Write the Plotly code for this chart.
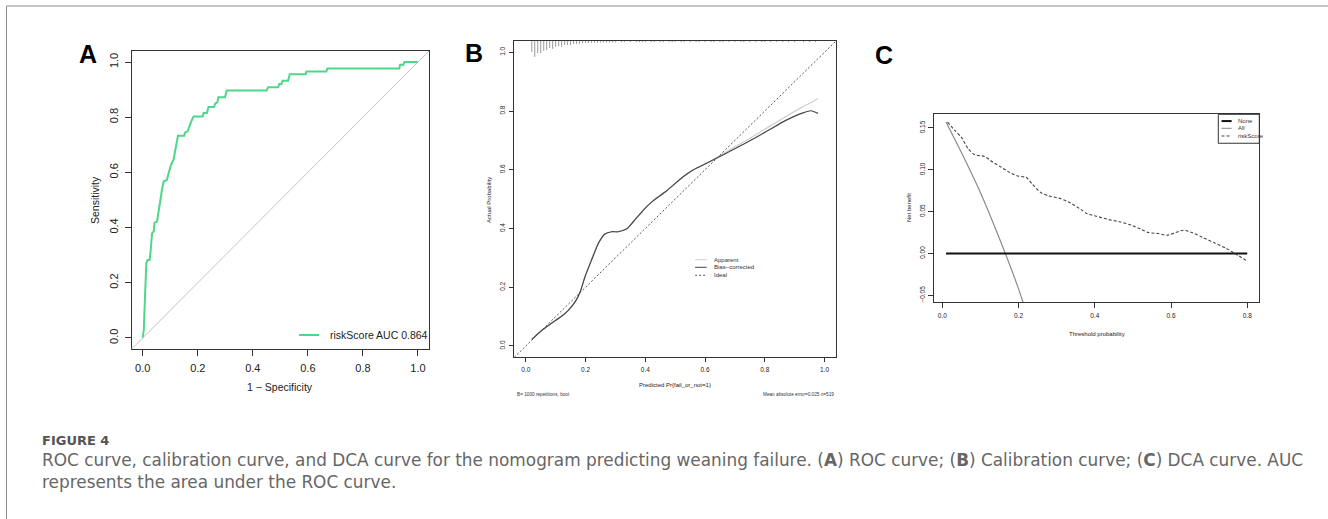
import plotly.graph_objects as go

W, H = 1328, 519

# ---------------- Panel A: ROC ----------------
roc_fpr = [0.000, 0.004, 0.006, 0.010, 0.013, 0.018, 0.025, 0.028, 0.034, 0.040,
           0.043, 0.052, 0.058, 0.064, 0.070, 0.076, 0.088, 0.094, 0.103, 0.112,
           0.118, 0.124, 0.128, 0.151, 0.154, 0.163, 0.166, 0.172, 0.179, 0.185,
           0.218, 0.221, 0.233, 0.239, 0.259, 0.263, 0.271, 0.275, 0.299, 0.305,
           0.450, 0.456, 0.492, 0.496, 0.504, 0.508, 0.528, 0.534, 0.592, 0.595,
           0.667, 0.671, 0.932, 0.935, 0.947, 0.951, 1.000]
roc_tpr = [0.000, 0.029, 0.089, 0.222, 0.271, 0.283, 0.283, 0.307, 0.380, 0.386,
           0.418, 0.422, 0.464, 0.501, 0.537, 0.567, 0.573, 0.597, 0.628, 0.646,
           0.676, 0.700, 0.733, 0.733, 0.745, 0.748, 0.759, 0.773, 0.791, 0.803,
           0.803, 0.815, 0.815, 0.837, 0.837, 0.849, 0.854, 0.872, 0.872, 0.897,
           0.897, 0.909, 0.909, 0.920, 0.920, 0.932, 0.932, 0.956, 0.956, 0.966,
           0.966, 0.977, 0.977, 0.990, 0.990, 1.000, 1.000]
roc_label = "riskScore AUC 0.864"
unit_ticks = [0.0, 0.2, 0.4, 0.6, 0.8, 1.0]
unit_tick_text = ["0.0", "0.2", "0.4", "0.6", "0.8", "1.0"]

# ---------------- Panel B: calibration ----------------
cal_x = [0.020, 0.053, 0.087, 0.120, 0.143, 0.165, 0.182, 0.198, 0.220, 0.243,
         0.265, 0.287, 0.310, 0.337, 0.360, 0.393, 0.426, 0.471, 0.527, 0.560,
         0.605, 0.671, 0.738, 0.805, 0.872, 0.928, 0.955, 0.978]
bias_corrected_y = [0.022, 0.053, 0.078, 0.101, 0.122, 0.150, 0.184, 0.235, 0.292, 0.349,
                    0.381, 0.389, 0.389, 0.398, 0.423, 0.462, 0.494, 0.528, 0.576, 0.599,
                    0.622, 0.656, 0.692, 0.730, 0.769, 0.794, 0.801, 0.792]
apparent_y = [0.022, 0.053, 0.078, 0.101, 0.122, 0.150, 0.184, 0.237, 0.296, 0.352,
              0.382, 0.389, 0.390, 0.399, 0.424, 0.463, 0.495, 0.529, 0.577, 0.600,
              0.622, 0.661, 0.700, 0.741, 0.782, 0.815, 0.829, 0.843]
rug_x = [0.02, 0.03, 0.04, 0.05, 0.06, 0.07, 0.08, 0.09, 0.10, 0.11,
         0.12, 0.13, 0.14, 0.15, 0.16, 0.17, 0.18, 0.19, 0.20, 0.21,
         0.22, 0.23, 0.24, 0.25, 0.26, 0.27, 0.28, 0.29, 0.30, 0.32,
         0.33, 0.35, 0.37, 0.38, 0.39, 0.40, 0.42, 0.43, 0.45, 0.46,
         0.48, 0.49, 0.50, 0.52, 0.53, 0.55, 0.57, 0.58, 0.60, 0.62,
         0.63, 0.65, 0.66, 0.68, 0.70, 0.72, 0.73, 0.75, 0.77, 0.79,
         0.80, 0.82, 0.84, 0.86, 0.88, 0.90, 0.93, 0.95, 0.97]
rug_h = [0.037, 0.054, 0.041, 0.041, 0.034, 0.031, 0.024, 0.027, 0.020, 0.017,
         0.020, 0.014, 0.014, 0.014, 0.010, 0.010, 0.010, 0.007, 0.007, 0.007,
         0.006, 0.006, 0.006, 0.005, 0.005, 0.005, 0.005, 0.005, 0.005, 0.004,
         0.004, 0.004, 0.004, 0.004, 0.004, 0.004, 0.004, 0.004, 0.004, 0.004,
         0.004, 0.004, 0.004, 0.004, 0.004, 0.004, 0.004, 0.004, 0.004, 0.004,
         0.004, 0.004, 0.004, 0.004, 0.004, 0.004, 0.004, 0.004, 0.004, 0.004,
         0.004, 0.004, 0.004, 0.004, 0.004, 0.004, 0.004, 0.004, 0.004]

# ---------------- Panel C: DCA ----------------
none_x = [0.01, 0.80]
none_y = [0.0, 0.0]
all_x = [0.01, 0.05, 0.10, 0.15, 0.20, 0.25]
all_y = [0.157, 0.121, 0.073, 0.018, -0.042, -0.112]
risk_x = [0.014, 0.033, 0.050, 0.068, 0.085, 0.111, 0.133, 0.155, 0.176, 0.198,
          0.220, 0.237, 0.259, 0.280, 0.311, 0.337, 0.363, 0.380, 0.406, 0.437,
          0.467, 0.497, 0.523, 0.541, 0.567, 0.589, 0.610, 0.632, 0.658, 0.684,
          0.714, 0.745, 0.775, 0.800]
risk_y = [0.157, 0.147, 0.139, 0.125, 0.118, 0.116, 0.109, 0.103, 0.097, 0.0925,
          0.091, 0.0825, 0.0726, 0.0687, 0.0655, 0.0603, 0.0528, 0.0476, 0.0444, 0.0405,
          0.0377, 0.0337, 0.0286, 0.025, 0.0238, 0.0218, 0.0246, 0.0278, 0.0246, 0.019,
          0.0127, 0.006, -0.002, -0.0091]
dca_x_ticks = [0.0, 0.2, 0.4, 0.6, 0.8]
dca_x_text = ["0.0", "0.2", "0.4", "0.6", "0.8"]
dca_y_ticks = [-0.05, 0.0, 0.05, 0.10, 0.15]
dca_y_text = ["\u22120.05", "0.00", "0.05", "0.10", "0.15"]

caption_head = "FIGURE 4"
caption_1 = ("ROC curve, calibration curve, and DCA curve for the nomogram predicting weaning failure. "
             "(<b>A</b>) ROC curve; (<b>B</b>) Calibration curve; (<b>C</b>) DCA curve. AUC")
caption_2 = "represents the area under the ROC curve."

FONT = "Liberation Sans, Arial, sans-serif"
CAP_FONT = "DejaVu Sans"

def px_x(p):
    return p / W

def px_y(p):
    return 1 - p / H

fig = go.Figure()

# --- A traces
fig.add_trace(go.Scatter(x=roc_fpr, y=roc_tpr, mode="lines", xaxis="x", yaxis="y",
                         line=dict(color="#4ED68A", width=2), showlegend=False, hoverinfo="skip"))

# --- B traces
rx, ry = [], []
for xv, hv in zip(rug_x, rug_h):
    rx += [xv, xv, None]
    ry += [1.0385, 1.0385 - hv, None]
fig.add_trace(go.Scatter(x=rx, y=ry, mode="lines", xaxis="x2", yaxis="y2",
                         line=dict(color="#9a9a9a", width=1), showlegend=False, hoverinfo="skip"))
fig.add_trace(go.Scatter(x=cal_x, y=apparent_y, mode="lines", xaxis="x2", yaxis="y2",
                         line=dict(color="#cfcfcf", width=1.2, shape="spline", smoothing=0.6),
                         showlegend=False, hoverinfo="skip"))
fig.add_trace(go.Scatter(x=cal_x, y=bias_corrected_y, mode="lines", xaxis="x2", yaxis="y2",
                         line=dict(color="#454545", width=1.2, shape="spline", smoothing=0.6),
                         showlegend=False, hoverinfo="skip"))

# --- C traces
fig.add_trace(go.Scatter(x=all_x, y=all_y, mode="lines", xaxis="x3", yaxis="y3",
                         line=dict(color="#8a8a8a", width=1.2, shape="spline", smoothing=0.4),
                         showlegend=False, hoverinfo="skip"))
fig.add_trace(go.Scatter(x=none_x, y=none_y, mode="lines", xaxis="x3", yaxis="y3",
                         line=dict(color="#111111", width=2), showlegend=False, hoverinfo="skip"))
fig.add_trace(go.Scatter(x=risk_x, y=risk_y, mode="lines", xaxis="x3", yaxis="y3",
                         line=dict(color="#444444", width=1.1, dash="3px,2px", shape="spline", smoothing=0.6),
                         showlegend=False, hoverinfo="skip"))

# domains (from pixel boxes)
dA_x = [px_x(131.7), px_x(429)]
dA_y = [px_y(349), px_y(51)]
dB_x = [px_x(514.3), px_x(836)]
dB_y = [px_y(357.3), px_y(41)]
dC_x = [px_x(934), px_x(1259.3)]
dC_y = [px_y(302.3), px_y(114.3)]

def axis(domain, rng, tickvals, ticktext, size, ticklen, anchor, is_y=False, standoff=2):
    d = dict(domain=domain, range=rng, tickvals=tickvals, ticktext=ticktext,
             ticks="outside", ticklen=ticklen, tickcolor="#333", tickwidth=1,
             showline=True, mirror=True, linecolor="#333", linewidth=1,
             showgrid=False, zeroline=False, anchor=anchor,
             tickfont=dict(family=FONT, size=size, color="#222"),
             ticklabelstandoff=standoff, fixedrange=True)
    if is_y:
        d["tickangle"] = -90
    return d

layout = dict(
    width=W, height=H, margin=dict(l=0, r=0, t=0, b=0),
    paper_bgcolor="white", plot_bgcolor="white",
    xaxis=axis(dA_x, [-0.04, 1.04], unit_ticks, unit_tick_text, 11, 6, "y", standoff=3),
    yaxis=axis(dA_y, [-0.04, 1.04], unit_ticks, unit_tick_text, 11, 6, "x", True, standoff=2),
    xaxis2=axis(dB_x, [-0.0385, 1.0385], unit_ticks, unit_tick_text, 6.5, 4, "y2", standoff=2),
    yaxis2=axis(dB_y, [-0.0385, 1.0385], unit_ticks, unit_tick_text, 6.5, 4, "x2", True, standoff=2),
    xaxis3=axis(dC_x, [-0.0216, 0.8316], dca_x_ticks, dca_x_text, 6.5, 5, "y3", standoff=2),
    yaxis3=axis(dC_y, [-0.0583, 0.1663], dca_y_ticks, dca_y_text, 6.5, 5, "x3", True, standoff=0),
)
fig.update_layout(**layout)

shapes = []
ann = []

# A: diagonal reference, legend key
shapes.append(dict(type="line", xref="x domain", yref="y domain", x0=0, y0=0, x1=1, y1=1,
                   line=dict(color="#c4c4c4", width=1)))
shapes.append(dict(type="line", xref="x domain", yref="y domain", x0=0.563, x1=0.630, y0=0.047, y1=0.047,
                   line=dict(color="#4ED68A", width=2)))
ann.append(dict(text=roc_label, xref="x domain", yref="y domain", x=0.660, y=0.047,
                xanchor="left", yanchor="middle", showarrow=False,
                font=dict(family=FONT, size=10.5, color="#222")))

# B: ideal line, legend
shapes.append(dict(type="line", xref="x2 domain", yref="y2 domain", x0=0, y0=0, x1=1, y1=1,
                   line=dict(color="#555", width=1, dash="2px,2px")))
b_leg = [("Apparent", "#cfcfcf", "solid", 0.3086),
         ("Bias\u2212corrected", "#454545", "solid", 0.2845),
         ("Ideal", "#555555", "2px,2px", 0.2593)]
for name, col, dash, yy in b_leg:
    shapes.append(dict(type="line", xref="x2 domain", yref="y2 domain", x0=0.562, x1=0.598, y0=yy, y1=yy,
                       line=dict(color=col, width=1, dash=dash)))
    ann.append(dict(text=name, xref="x2 domain", yref="y2 domain", x=0.614, y=yy,
                    xanchor="left", yanchor="middle", showarrow=False,
                    font=dict(family=FONT, size=6, color="#333")))

# C: legend box
shapes.append(dict(type="rect", xref="x3 domain", yref="y3 domain", x0=0.874, x1=1.0, y0=0.846, y1=1.0,
                   line=dict(color="#333", width=1), fillcolor="rgba(0,0,0,0)"))
c_leg = [("None", "#111111", "solid", 2, 0.964),
         ("All", "#8a8a8a", "solid", 1, 0.9255),
         ("riskScore", "#444444", "3px,2px", 1, 0.8846)]
for name, col, dash, wd, yy in c_leg:
    shapes.append(dict(type="line", xref="x3 domain", yref="y3 domain", x0=0.884, x1=0.915, y0=yy, y1=yy,
                       line=dict(color=col, width=wd, dash=dash)))
    ann.append(dict(text=name, xref="x3 domain", yref="y3 domain", x=0.927, y=yy,
                    xanchor="left", yanchor="middle", showarrow=False,
                    font=dict(family=FONT, size=6, color="#333")))

# axis titles
def title(text, x, y, size, angle=0):
    ann.append(dict(text=text, xref="paper", yref="paper", x=px_x(x), y=px_y(y),
                    xanchor="center", yanchor="middle", showarrow=False, textangle=angle,
                    font=dict(family=FONT, size=size, color="#222")))

title("1 \u2212 Specificity", 280, 387, 10.5)
title("Sensitivity", 95, 200, 10.5, -90)
title("Predicted Pr{fail_or_not=1}", 675, 385, 6)
title("Actual Probability", 489, 200, 6, -90)
title("Threshold probability", 1097, 334.3, 6)
title("Net benefit", 909, 208, 6, -90)

ann.append(dict(text="B= 1000 repetitions, boot", xref="paper", yref="paper", x=px_x(515), y=px_y(394),
                xanchor="left", yanchor="middle", showarrow=False,
                font=dict(family=FONT, size=4.7, color="#333")))
ann.append(dict(text="Mean absolute error=0.025 n=519", xref="paper", yref="paper", x=px_x(836), y=px_y(394),
                xanchor="right", yanchor="middle", showarrow=False,
                font=dict(family=FONT, size=4.7, color="#333")))

# panel letters
for letter, x, y in [("A", 88, 54), ("B", 474, 53), ("C", 884, 55)]:
    ann.append(dict(text="<b>%s</b>" % letter, xref="paper", yref="paper", x=px_x(x), y=px_y(y),
                    xanchor="center", yanchor="middle", showarrow=False,
                    font=dict(family=FONT, size=25, color="#000")))

# caption
ann.append(dict(text=caption_head, xref="paper", yref="paper", x=px_x(40), y=px_y(440),
                xanchor="left", yanchor="middle", showarrow=False,
                font=dict(family=CAP_FONT, size=13, color="#555", weight="bold")))
ann.append(dict(text=caption_1, xref="paper", yref="paper", x=px_x(40), y=px_y(460),
                xanchor="left", yanchor="middle", showarrow=False,
                font=dict(family=CAP_FONT, size=16.9, color="#666")))
ann.append(dict(text=caption_2, xref="paper", yref="paper", x=px_x(40), y=px_y(482),
                xanchor="left", yanchor="middle", showarrow=False,
                font=dict(family=CAP_FONT, size=16.9, color="#666")))

# card border (top and left)
shapes.append(dict(type="line", xref="paper", yref="paper", x0=px_x(6.5), x1=1, y0=px_y(6), y1=px_y(6),
                   line=dict(color="#8c8c8c", width=1)))
shapes.append(dict(type="line", xref="paper", yref="paper", x0=px_x(6.5), x1=px_x(6.5), y0=px_y(6), y1=0,
                   line=dict(color="#8c8c8c", width=1)))

fig.update_layout(shapes=shapes, annotations=ann)
fig.write_html("out.html", config={"displayModeBar": False},
               post_script="document.body.style.margin='0px';document.body.style.overflow='hidden';")
